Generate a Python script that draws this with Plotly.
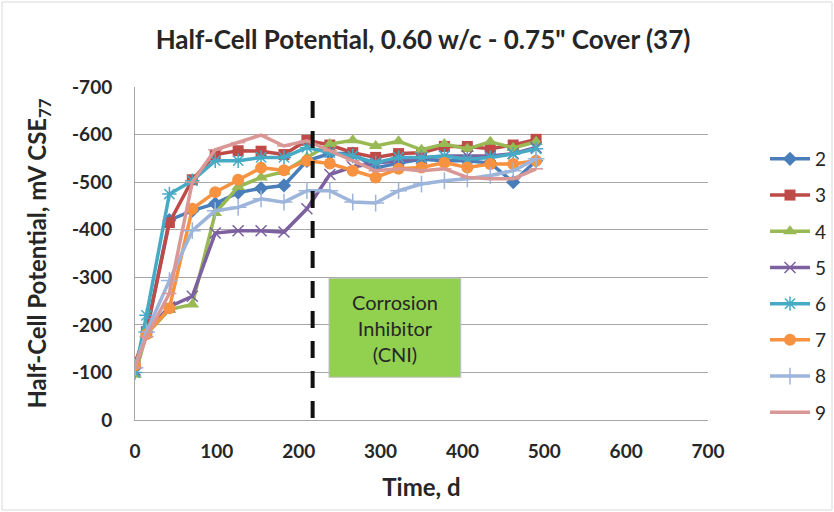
import plotly.graph_objects as go

days = [0, 14, 42, 70, 98, 126, 154, 182, 210, 238, 266, 294, 322, 350, 378, 406, 434, 462, 490]

s2 = [-110, -185, -420, -440, -455, -478, -487, -493, -545, -560, -560, -530, -540, -548, -545, -545, -540, -500, -545]
s3 = [-120, -185, -415, -505, -558, -566, -565, -558, -588, -578, -562, -552, -560, -562, -575, -575, -570, -578, -590]
s4 = [-95, -180, -232, -243, -435, -490, -510, -522, -552, -580, -588, -576, -586, -568, -580, -570, -585, -572, -585]
s5 = [-105, -185, -238, -260, -393, -398, -398, -395, -444, -516, -532, -540, -545, -550, -555, -555, -555, -560, -573]
s6 = [-100, -220, -475, -503, -545, -545, -552, -552, -573, -562, -555, -541, -552, -552, -555, -548, -552, -559, -570]
s7 = [-115, -180, -235, -444, -479, -505, -530, -525, -545, -539, -524, -510, -528, -531, -541, -531, -538, -538, -545]
s8 = [-110, -185, -293, -398, -440, -447, -465, -458, -482, -482, -458, -456, -482, -496, -503, -507, -514, -524, -549]
s9 = [-110, -175, -266, -500, -568, -583, -599, -576, -587, -566, -545, -524, -528, -524, -528, -510, -507, -507, -528]

names = ["2", "3", "4", "5", "6", "7", "8", "9"]
series = [s2, s3, s4, s5, s6, s7, s8, s9]
colors = ["#4A7EBB", "#BE4B48", "#98B954", "#7D60A0", "#46AAC5", "#F69240", "#9DB5DB", "#D99795"]
symbols = ["diamond", "square", "triangle-up", "x-thin", "asterisk", "circle", "cross-thin", "line-ew"]
sizes = [11, 11, 12, 11, 12, 12, 12, 10]

ytick_vals = [0, -100, -200, -300, -400, -500, -600, -700]
ytick_text = ["0", "-100", "-200", "-300", "-400", "-500", "-600", "-700"]
xtick_vals = [0, 100, 200, 300, 400, 500, 600, 700]

inhibitor_day = 217
box_x = [237, 398]
box_y = [-90, -298]

FONT = "Lato, 'Open Sans', sans-serif"
TXT = "#262626"

fig = go.Figure()
for name, ys, c, sym, sz in zip(names, series, colors, symbols, sizes):
    open_sym = sym in ("x-thin", "cross-thin", "asterisk", "line-ew")
    fig.add_trace(go.Scatter(
        x=days, y=ys, name=name, mode="lines+markers",
        legendgroup=name,
        line=dict(color=c, width=3.5),
        marker=dict(symbol=sym, size=sz, color=c,
                    line=dict(color=c, width=1.5 if open_sym else 0)),
    ))

L, R, T, B = 135, 126, 87, 92
W, H = 834, 512
pw, ph = W - L - R, H - T - B

def px_x(p):
    return (p - L) / pw

def px_y(p):
    return (H - B - p) / ph

fig.add_shape(type="line", xref="x", yref="y", x0=inhibitor_day, x1=inhibitor_day,
              y0=-4, y1=-688, line=dict(color="#111111", width=4, dash="17px,13px"))
fig.add_shape(type="rect", xref="x", yref="y", x0=box_x[0], x1=box_x[1], y0=box_y[0], y1=box_y[1],
              fillcolor="#92D050", line=dict(color="#BFBFBF", width=1))
fig.add_annotation(x=(box_x[0] + box_x[1]) / 2, y=(box_y[0] + box_y[1]) / 2, xref="x", yref="y",
                   text="Corrosion<br>Inhibitor<br>(CNI)", showarrow=False,
                   font=dict(family=FONT, size=20, color=TXT), align="center")
# outer chart border
fig.add_shape(type="rect", xref="paper", yref="paper",
              x0=px_x(2), x1=px_x(832), y0=px_y(510), y1=px_y(2),
              line=dict(color="#D9D9D9", width=1), fillcolor="rgba(0,0,0,0)", layer="below")

fig.update_layout(
    width=W, height=H,
    margin=dict(l=L, r=R, t=T, b=B, autoexpand=False),
    paper_bgcolor="white", plot_bgcolor="white",
    font=dict(family=FONT, color=TXT),
    title=dict(text="<b>Half-Cell Potential, 0.60 w/c - 0.75\" Cover (37)</b>",
               x=px_x(423), xref="paper", xanchor="center", y=1 - 40 / H, yanchor="middle",
               font=dict(family=FONT, size=26, color=TXT)),
    showlegend=True,
    legend=dict(x=px_x(765), xanchor="left", y=px_y(140), yanchor="top",
                font=dict(family=FONT, size=19, color=TXT), tracegroupgap=8.5,
                bgcolor="rgba(0,0,0,0)", itemwidth=40),
    xaxis=dict(range=[0, 700], tickvals=xtick_vals, showgrid=False, zeroline=False,
               showline=True, linecolor="#A6A6A6", linewidth=1, automargin=False,
               tickfont=dict(family=FONT, size=19, color=TXT, weight="bold"),
               ticklabelstandoff=14,
               title=dict(text="<b>Time, d</b>", font=dict(family=FONT, size=24, color=TXT), standoff=18)),
    yaxis=dict(range=[0, -700], tickvals=ytick_vals, ticktext=ytick_text, showgrid=True,
               gridcolor="#A6A6A6", gridwidth=1, zeroline=False,
               showline=True, linecolor="#A6A6A6", linewidth=1, automargin=False,
               tickfont=dict(family=FONT, size=19, color=TXT, weight="bold"),
               ticklabelstandoff=18,
               title=dict(text="<b>Half-Cell Potential, mV CSE<sub>77</sub></b>",
                          font=dict(family=FONT, size=24, color=TXT), standoff=18)),
)

fig.write_html("out.html", config={"displayModeBar": False},
               post_script="document.body.style.margin='0';document.body.style.overflow='hidden';")
